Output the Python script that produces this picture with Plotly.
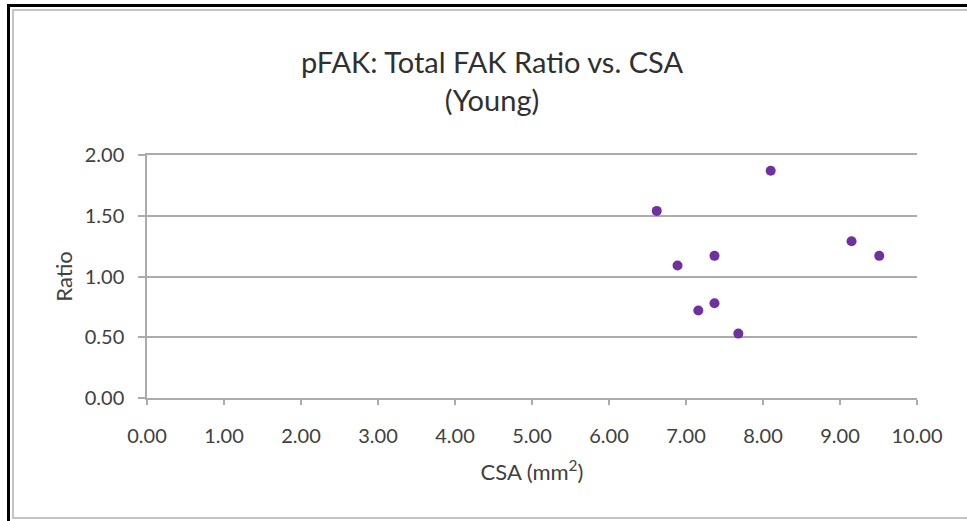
import plotly.graph_objects as go

csa = [8.10, 6.62, 6.89, 7.37, 7.16, 7.37, 7.68, 9.15, 9.51]
ratio = [1.87, 1.54, 1.09, 1.17, 0.72, 0.78, 0.53, 1.29, 1.17]
x_ticks = [0, 1, 2, 3, 4, 5, 6, 7, 8, 9, 10]
y_ticks = [0, 0.5, 1.0, 1.5, 2.0]

W, H = 967, 521
L, R, T, B = 147, 50, 155, 123
pw, ph = W - L - R, H - T - B

def px(x):
    return (x - L) / pw

def py(y):
    return (H - B - y) / ph

FONT = "Lato"
GRID = "#ababab"
TXT = "#404040"

fig = go.Figure()
fig.add_trace(go.Scatter(
    x=csa, y=ratio, mode="markers",
    marker=dict(color="#7030a0", size=10, line=dict(width=0)),
    showlegend=False,
))

fig.update_layout(
    width=W, height=H,
    margin=dict(l=L, r=R, t=T, b=B),
    paper_bgcolor="white", plot_bgcolor="white",
    title=dict(
        text="pFAK: Total FAK Ratio vs. CSA<br>(Young)",
        x=492 / W, xanchor="center", xref="container",
        y=1 - 73 / H, yanchor="middle", yref="container",
        font=dict(family=FONT, size=29, color="#303030"),
    ),
    xaxis=dict(
        range=[0, 10], tickvals=x_ticks,
        ticktext=[f"{v:.2f}" for v in x_ticks],
        showgrid=False, zeroline=False,
        showline=True, linecolor=GRID, linewidth=1.5, mirror=True,
        ticks="outside", ticklen=5, tickcolor=GRID, tickwidth=1.5,
        ticklabelstandoff=14,
        tickfont=dict(family=FONT, size=20, color=TXT),
        title=dict(text="CSA (mm<sup>2</sup>)", standoff=19,
                   font=dict(family=FONT, size=22, color=TXT)),
        fixedrange=True,
    ),
    yaxis=dict(
        range=[0, 2], tickvals=y_ticks,
        ticktext=[f"{v:.2f}" for v in y_ticks],
        showgrid=True, gridcolor=GRID, gridwidth=1.5,
        zeroline=False,
        showline=True, linecolor=GRID, linewidth=1.5,
        ticks="outside", ticklen=7, tickcolor=GRID, tickwidth=1.5,
        ticklabelstandoff=10,
        tickfont=dict(family=FONT, size=20, color=TXT),
        title=dict(text="Ratio", standoff=6,
                   font=dict(family=FONT, size=22, color=TXT)),
        fixedrange=True,
    ),
)

shapes = [
    dict(type="rect", xref="paper", yref="paper",
         x0=px(7), x1=px(10), y0=py(521), y1=py(4),
         fillcolor="black", line=dict(width=0), layer="above"),
    dict(type="rect", xref="paper", yref="paper",
         x0=px(7), x1=px(967), y0=py(7), y1=py(4),
         fillcolor="black", line=dict(width=0), layer="above"),
    dict(type="rect", xref="paper", yref="paper",
         x0=px(12), x1=px(14), y0=py(519), y1=py(9),
         fillcolor="#c4c4c4", line=dict(width=0), layer="above"),
    dict(type="rect", xref="paper", yref="paper",
         x0=px(12), x1=px(967), y0=py(11), y1=py(9),
         fillcolor="#c4c4c4", line=dict(width=0), layer="above"),
    dict(type="rect", xref="paper", yref="paper",
         x0=px(12), x1=px(967), y0=py(519), y1=py(517),
         fillcolor="#c4c4c4", line=dict(width=0), layer="above"),
]
fig.update_layout(shapes=shapes)

fig.write_html("out.html", config={"displayModeBar": False})
